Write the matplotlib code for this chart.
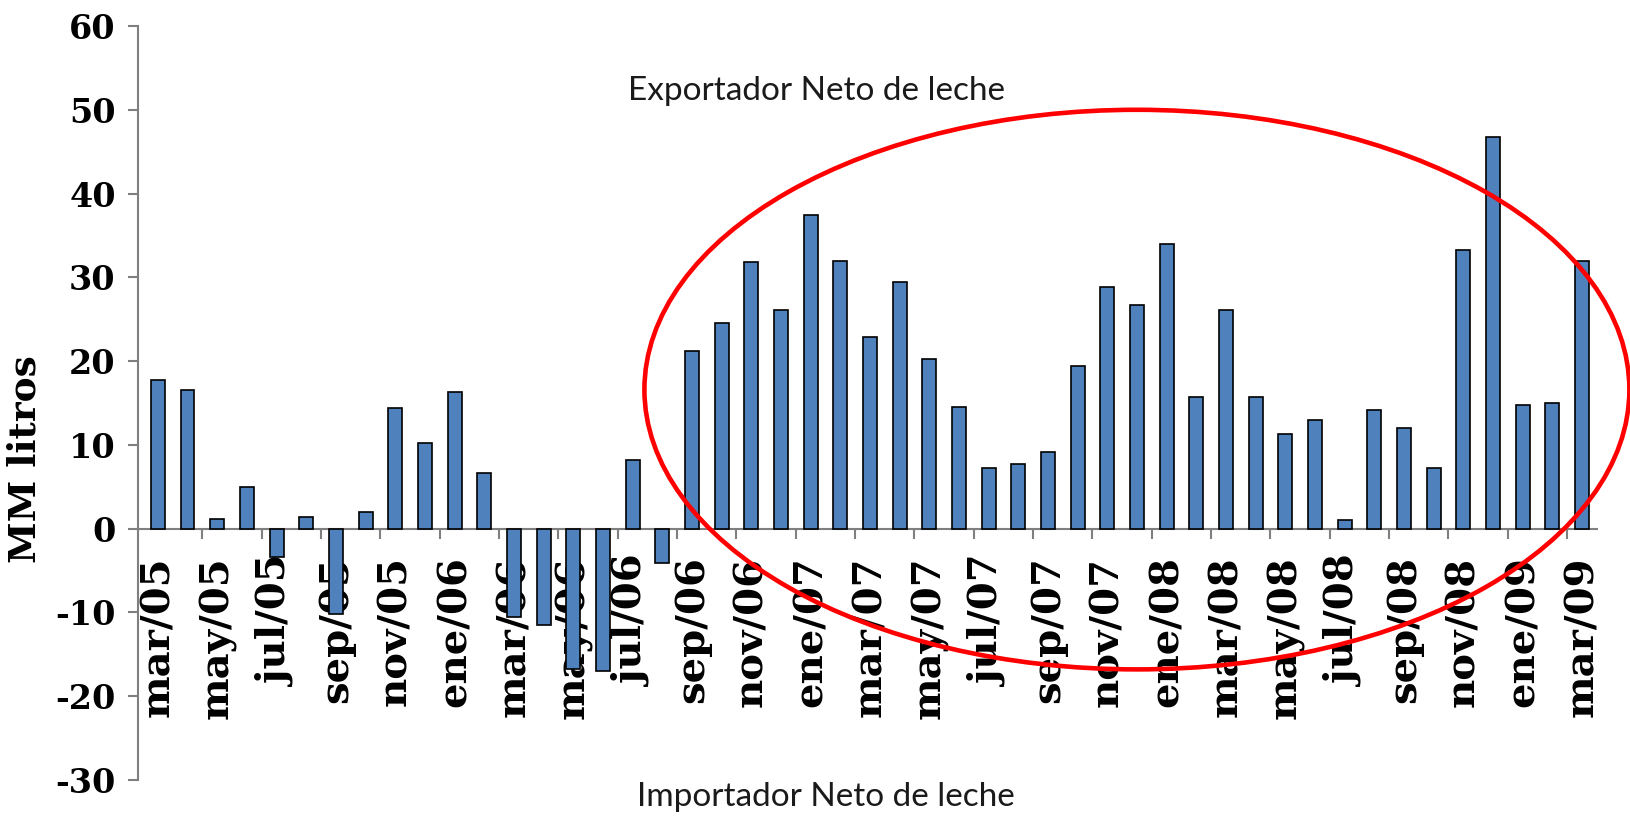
import matplotlib
matplotlib.use("Agg")
import matplotlib.pyplot as plt
import numpy as np
from matplotlib.patches import Ellipse

# meses mar/05 .. mar/09
meses = ["mar/05", "abr/05", "may/05", "jun/05", "jul/05", "ago/05", "sep/05", "oct/05",
         "nov/05", "dic/05", "ene/06", "feb/06", "mar/06", "abr/06", "may/06", "jun/06",
         "jul/06", "ago/06", "sep/06", "oct/06", "nov/06", "dic/06", "ene/07", "feb/07",
         "mar/07", "abr/07", "may/07", "jun/07", "jul/07", "ago/07", "sep/07", "oct/07",
         "nov/07", "dic/07", "ene/08", "feb/08", "mar/08", "abr/08", "may/08", "jun/08",
         "jul/08", "ago/08", "sep/08", "oct/08", "nov/08", "dic/08", "ene/09", "feb/09",
         "mar/09"]
saldo = [17.8, 16.6, 1.1, 5.0, -3.4, 1.4, -10.2, 2.0,
         14.4, 10.2, 16.3, 6.7, -10.5, -11.5, -16.8, -17.0,
         8.2, -4.1, 21.2, 24.5, 31.8, 26.1, 37.5, 32.0,
         22.9, 29.4, 20.2, 14.5, 7.2, 7.7, 9.1, 19.4,
         28.8, 26.7, 34.0, 15.7, 26.1, 15.7, 11.3, 13.0,
         1.0, 14.2, 12.0, 7.2, 33.3, 46.8, 14.8, 15.0,
         31.9]
yticks = [-30, -20, -10, 0, 10, 20, 30, 40, 50, 60]

fig = plt.figure(figsize=(16.31, 8.18), dpi=100)
ax = fig.add_axes([0.0846, 0.0465, 0.979 - 0.0846, 0.9682 - 0.0465])

x = np.arange(len(saldo))
ax.bar(x, saldo, width=0.47, color="#4F81BD", edgecolor="black", linewidth=1.2, zorder=3)

ax.set_xlim(-0.67, 48.5)
ax.set_ylim(-30, 60)

# eje x en cero
for s in ["top", "right"]:
    ax.spines[s].set_visible(False)
ax.spines["bottom"].set_position(("data", 0))
ax.spines["bottom"].set_color("#7f7f7f")
ax.spines["bottom"].set_linewidth(1.5)
ax.spines["left"].set_color("#7f7f7f")
ax.spines["left"].set_linewidth(1.5)

ax.set_xticks(x[::2])
ax.set_xticklabels(meses[::2], rotation=90, va="top", ha="center",
                   family="DejaVu Serif", fontweight="bold", fontsize=29)
ax.tick_params(axis="x", which="major", length=0, pad=20)
ax.set_xticks(np.arange(1.5, 48, 2), minor=True)
ax.tick_params(axis="x", which="minor", length=7, width=1.5, color="#7f7f7f", direction="out")

ax.set_yticks(yticks)
ax.set_yticklabels([str(v) for v in yticks], family="DejaVu Serif", fontweight="bold", fontsize=24)
ax.tick_params(axis="y", length=7, width=1.5, color="#7f7f7f", pad=9)

ax.set_ylabel("MM litros", family="DejaVu Serif", fontweight="bold", fontsize=27)
ax.yaxis.set_label_coords(-0.065, 0.426)

fuente = ["Lato", "DejaVu Sans"]
ax.text(22.2, 52.3, "Exportador Neto de leche", ha="center", va="center",
        family=fuente, fontsize=24, color="#1a1a1a")
ax.text(22.5, -32.0, "Importador Neto de leche", ha="center", va="center",
        family=fuente, fontsize=24, color="#1a1a1a", clip_on=False)

ax.add_patch(Ellipse((33.0, 16.6), 33.2, 66.8, fill=False, edgecolor="#ff0000",
                     linewidth=3.3, clip_on=False, zorder=5))

plt.savefig("out.png", dpi=100)
